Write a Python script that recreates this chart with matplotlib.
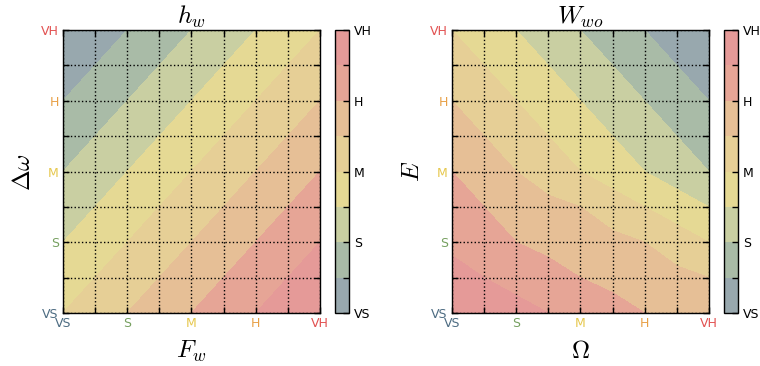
import numpy as np
import matplotlib
matplotlib.use('Agg')
import matplotlib.pyplot as plt
from matplotlib.colors import ListedColormap, BoundaryNorm

plt.rcParams['mathtext.fontset'] = 'cm'
plt.rcParams['font.family'] = ['DejaVu Sans']

# linguistic levels, shared by both axes of both panels
labels = ['VS', 'S', 'M', 'H', 'VH']
label_colors = ['#4d6c82', '#76a060', '#e6c84e', '#e8a047', '#e25252']
band_colors = ['#98a8ae', '#a9bba7', '#c9cfa2', '#e5d994',
               '#e6cf96', '#e6bf96', '#e6a596', '#e59a98']
band_edges = [0, 0.5, 1, 1.5, 2, 2.5, 3, 3.5, 4]

# h_w over (F_w, delta omega), rows = delta omega VS..VH, cols = F_w VS..VH
hw_axis = [0, 1, 2, 3, 4]
hw_values = [
    [2.0, 2.5, 3.0, 3.5, 4.0],
    [1.5, 2.0, 2.5, 3.0, 3.5],
    [1.0, 1.5, 2.0, 2.5, 3.0],
    [0.5, 1.0, 1.5, 2.0, 2.5],
    [0.0, 0.5, 1.0, 1.5, 2.0],
]

# W_wo over (Omega, E), rows = E VS..VH in half steps, cols = Omega
wwo_axis = [0, 0.5, 1, 1.5, 2, 2.5, 3, 3.5, 4]
wwo_values = [
    [3.9, 3.83, 3.67, 3.5, 3.33, 3.17, 3.0, 2.875, 2.75],
    [3.75, 3.5, 3.33, 3.17, 3.0, 2.875, 2.75, 2.625, 2.5],
    [3.35, 3.25, 3.0, 2.875, 2.75, 2.625, 2.5, 2.25, 2.0],
    [3.25, 3.0, 2.75, 2.625, 2.5, 2.25, 2.0, 1.75, 1.5],
    [3.0, 2.75, 2.5, 2.25, 2.0, 1.75, 1.5, 1.25, 1.0],
    [2.75, 2.5, 2.25, 2.0, 1.75, 1.5, 1.25, 1.0, 0.75],
    [2.5, 2.25, 2.0, 1.75, 1.5, 1.25, 1.0, 0.75, 0.5],
    [2.25, 2.0, 1.75, 1.5, 1.25, 1.0, 0.75, 0.5, 0.25],
    [2.0, 1.75, 1.5, 1.25, 1.0, 0.75, 0.5, 0.25, 0.0],
]

cmap = ListedColormap(band_colors)

fig = plt.figure(figsize=(7.6, 3.66), dpi=100)


def panel(rect, cbar_rect, xs, ys, zs, title, xlabel, ylabel):
    ax = fig.add_axes(rect)
    norm = BoundaryNorm(band_edges, cmap.N)
    cs = ax.contourf(xs, ys, np.array(zs), levels=band_edges, cmap=cmap, norm=norm)
    ax.set_xlim(0, 4)
    ax.set_ylim(0, 4)
    ax.set_xticks(range(5))
    ax.set_yticks(range(5))
    ax.set_xticks(np.arange(0.5, 4, 1), minor=True)
    ax.set_yticks(np.arange(0.5, 4, 1), minor=True)
    ax.set_xticklabels(labels, fontsize=9)
    ax.set_yticklabels(labels, fontsize=9)
    for t, c in zip(ax.get_xticklabels(), label_colors):
        t.set_color(c)
    for t, c in zip(ax.get_yticklabels(), label_colors):
        t.set_color(c)
    ax.tick_params(which='both', direction='in', top=True, right=True,
                   length=4.5, width=1, pad=3)
    ax.grid(which='both', linestyle=':', color='k', linewidth=1)
    ax.set_axisbelow(False)
    for s in ax.spines.values():
        s.set_linewidth(1)
    ax.set_title(title, fontsize=18, pad=-1)
    ax.set_xlabel(xlabel, fontsize=18, labelpad=6)
    ax.set_ylabel(ylabel, fontsize=18, labelpad=4)

    cax = fig.add_axes(cbar_rect)
    cb = fig.colorbar(cs, cax=cax)
    cb.set_ticks(range(5), labels=labels)
    cb.ax.set_yticks(np.arange(0.5, 4, 1), minor=True)
    cb.ax.tick_params(which='both', direction='in', length=4, width=1,
                      right=True, labelsize=9)
    cb.outline.set_linewidth(1)
    return ax


panel([0.0829, 0.1448, 0.338, 0.773], [0.4408, 0.1448, 0.0184, 0.773],
      hw_axis, hw_axis, hw_values, r'$h_w$', r'$F_w$', r'$\Delta\omega$')
panel([0.5947, 0.1448, 0.338, 0.773], [0.9526, 0.1448, 0.0184, 0.773],
      wwo_axis, wwo_axis, wwo_values, r'$W_{wo}$', r'$\Omega$', r'$E$')

plt.savefig('out.png', dpi=100)
plt.close()
